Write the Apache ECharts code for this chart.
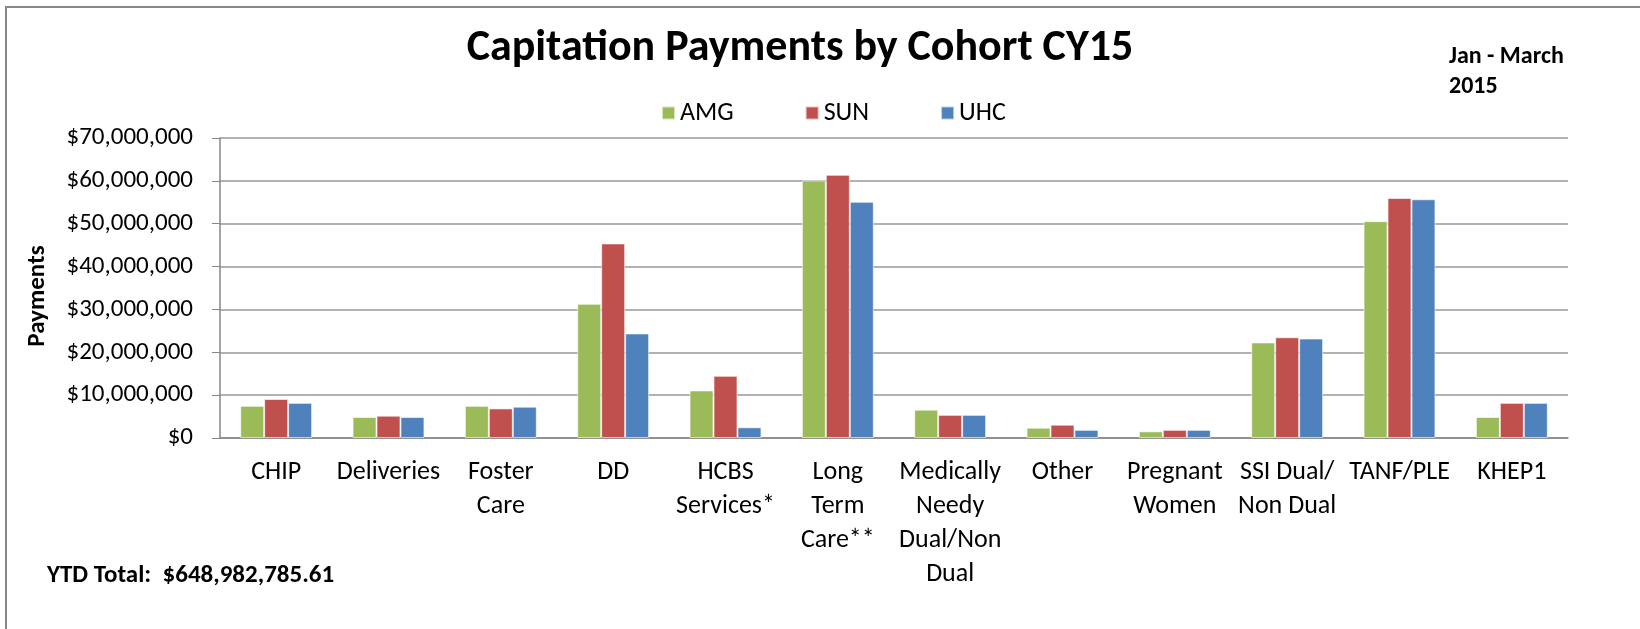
<!DOCTYPE html>
<html>
<head>
<meta charset="utf-8">
<script src="https://cdn.jsdelivr.net/npm/echarts@6/dist/echarts.min.js"></script>
<style>
  html, body { margin: 0; padding: 0; background: #fff; }
  #chart { width: 1640px; height: 629px; }
</style>
</head>
<body>
<div id="chart"></div>
<script>
const categories = [
  'CHIP', 'Deliveries', 'Foster\nCare', 'DD', 'HCBS\nServices*', 'Long\nTerm\nCare**',
  'Medically\nNeedy\nDual/Non\nDual', 'Other', 'Pregnant\nWomen', 'SSI Dual/\nNon Dual', 'TANF/PLE', 'KHEP1'
]
const amg = [7.5, 4.9, 7.5, 31.3, 11.1, 60.1, 6.6, 2.4, 1.55, 22.3, 50.6, 4.9].map(v => v * 1e6)
const sun = [9.1, 5.2, 6.9, 45.4, 14.5, 61.4, 5.4, 3.1, 1.9, 23.5, 56.0, 8.2].map(v => v * 1e6)
const uhc = [8.2, 4.9, 7.3, 24.4, 2.5, 55.1, 5.4, 1.9, 1.9, 23.2, 55.7, 8.2].map(v => v * 1e6)

const font = "Carlito, 'Liberation Sans', sans-serif"
const chart = echarts.init(document.getElementById('chart'))

function money(v) {
  return '$' + Math.round(v).toString().replace(/\B(?=(\d{3})+(?!\d))/g, ',')
}

const bar = (name, data, color) => ({
  name,
  type: 'bar',
  data,
  barGap: '0%',
  barCategoryGap: '36%',
  itemStyle: { color, borderColor: 'rgba(255,255,255,0.6)', borderWidth: 1 }
})

const option = {
  animation: false,
  backgroundColor: '#fff',
  legend: {
    left: 656,
    top: 95,
    itemWidth: 13,
    itemHeight: 13,
    itemGap: 71,
    icon: 'rect',
    textStyle: { fontFamily: font, fontSize: 26, color: '#000' },
    data: ['AMG', 'SUN', 'UHC']
  },
  grid: { left: 220, right: 72, top: 138, bottom: 191, containLabel: false },
  xAxis: {
    type: 'category',
    data: categories,
    axisLine: { lineStyle: { color: '#868686', width: 1.5 } },
    axisTick: { length: 7, lineStyle: { color: '#868686' } },
    axisLabel: {
      interval: 0,
      margin: 17,
      lineHeight: 34,
      fontFamily: font,
      fontSize: 26,
      color: '#000'
    }
  },
  yAxis: {
    type: 'value',
    min: 0,
    max: 70000000,
    interval: 10000000,
    axisLine: { show: true, lineStyle: { color: '#868686', width: 1.5 } },
    axisTick: { show: true, length: 8, lineStyle: { color: '#868686' } },
    axisLabel: { margin: 27, fontFamily: font, fontSize: 25, color: '#000', formatter: money },
    splitLine: { lineStyle: { color: '#999', width: 1.5 } }
  },
  graphic: [
    {
      type: 'rect',
      shape: { x: 6, y: 7, width: 1700, height: 700 },
      style: { fill: 'none', stroke: '#888', lineWidth: 2 },
      silent: true
    },
    {
      type: 'text', x: 800, y: 49,
      style: {
        text: 'Capitation Payments by Cohort CY15', font: 'bold 44px ' + font,
        fill: '#000', align: 'center', verticalAlign: 'middle'
      }
    },
    {
      type: 'text', x: 38, y: 296, rotation: Math.PI / 2,
      style: {
        text: 'Payments', font: 'bold 25px ' + font,
        fill: '#000', align: 'center', verticalAlign: 'middle'
      }
    },
    {
      type: 'text', x: 1449, y: 57,
      style: { text: 'Jan - March', font: 'bold 24px ' + font, fill: '#000', verticalAlign: 'middle' }
    },
    {
      type: 'text', x: 1449, y: 87,
      style: { text: '2015', font: 'bold 24px ' + font, fill: '#000', verticalAlign: 'middle' }
    },
    {
      type: 'text', x: 47, y: 576,
      style: { text: 'YTD Total:  $648,982,785.61', font: 'bold 25px ' + font, fill: '#000', verticalAlign: 'middle' }
    }
  ],
  series: [
    bar('AMG', amg, '#9BBB59'),
    bar('SUN', sun, '#C0504D'),
    bar('UHC', uhc, '#4F81BD')
  ]
}

chart.setOption(option)
</script>
</body>
</html>
